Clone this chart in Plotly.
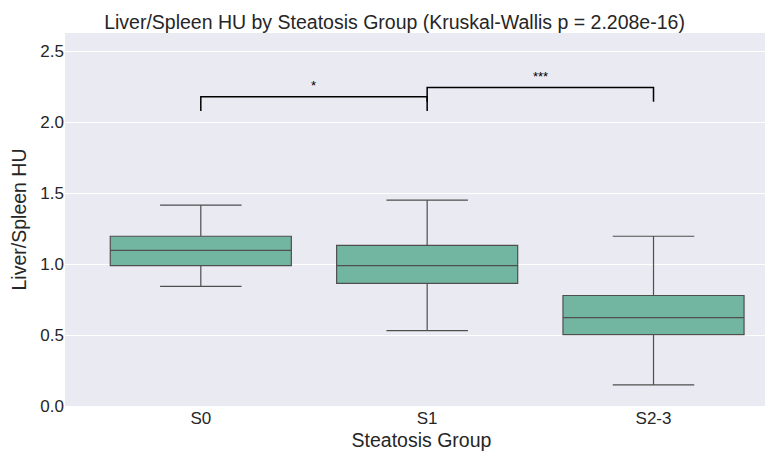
import plotly.graph_objects as go

groups = ["S0", "S1", "S2-3"]
lower = [0.843, 0.531, 0.149]
q1 = [0.990, 0.864, 0.503]
median = [1.098, 0.990, 0.623]
q3 = [1.197, 1.133, 0.779]
upper = [1.416, 1.452, 1.197]

# significance brackets: (left, right, bar height, tip height, label)
brackets = [("S0", "S1", 2.18, 2.08, "*"), ("S1", "S2-3", 2.245, 2.146, "***")]

fig = go.Figure()
fig.add_trace(go.Box(
    x=groups, q1=q1, median=median, q3=q3,
    lowerfence=lower, upperfence=upper,
    fillcolor="#72b6a1", line=dict(color="#4f4f4f", width=1.2),
    width=0.8, whiskerwidth=0.45, boxpoints=False, showlegend=False,
))

for a, b, h, tip, label in brackets:
    fig.add_trace(go.Scatter(
        x=[a, a, b, b], y=[tip, h, h, tip], mode="lines",
        line=dict(color="black", width=1.5), showlegend=False, hoverinfo="skip",
    ))
    fig.add_annotation(x=(groups.index(a) + groups.index(b)) / 2, y=h,
                       text=label, showarrow=False, yanchor="bottom", yshift=2,
                       font=dict(size=13, color="black"))

fig.update_layout(
    width=773, height=473,
    margin=dict(l=57, r=3, t=25, b=75),
    plot_bgcolor="#eaeaf2", paper_bgcolor="white",
    font=dict(family="Liberation Sans, Arial", color="#262626", size=17),
    title=dict(text="Liver/Spleen HU by Steatosis Group (Kruskal-Wallis p = 2.208e-16)",
               x=0.5, xanchor="center", y=0.985, yanchor="top", font=dict(size=19.5)),
    xaxis=dict(title=dict(text="Steatosis Group", font=dict(size=19.5), standoff=6),
               showgrid=False, tickfont=dict(size=17),
               range=[-0.6, 2.55], zeroline=False),
    yaxis=dict(title=dict(text="Liver/Spleen HU", font=dict(size=19.5), standoff=8),
               range=[0, 2.63], dtick=0.5, tickformat=".1f",
               showgrid=True, gridcolor="white", gridwidth=1.2, zeroline=False,
               tickfont=dict(size=17)),
)

fig.write_html("out.html")
